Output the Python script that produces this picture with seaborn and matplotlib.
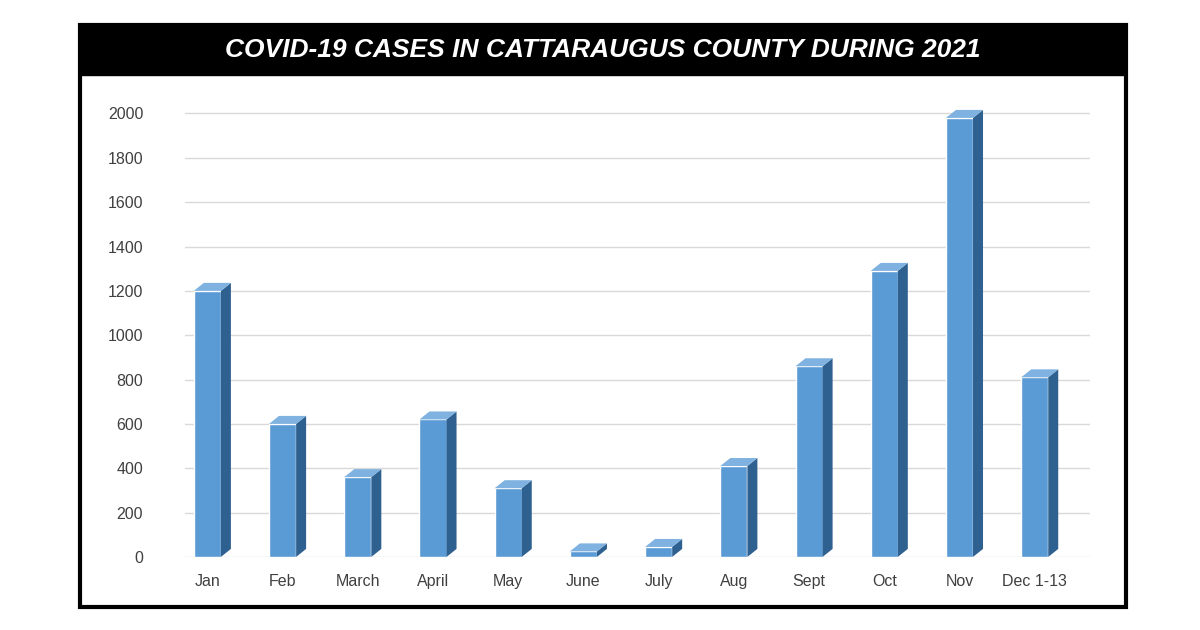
import matplotlib
matplotlib.use("Agg")
import matplotlib.pyplot as plt
import seaborn as sns
import pandas as pd
from matplotlib.patches import Polygon, Rectangle

# ── data ──────────────────────────────────────────────────────────────────────
months = ["Jan", "Feb", "March", "April", "May", "June", "July", "Aug",
          "Sept", "Oct", "Nov", "Dec 1-13"]
cases = [1200, 600, 360, 620, 310, 25, 45, 410, 860, 1290, 1980, 810]
yticks = list(range(0, 2001, 200))

df = pd.DataFrame({"month": months, "cases": cases})

FRONT = "#5b9bd5"
SIDE = "#2f6190"
TOP = "#7fb2e0"

sns.set_style("white")
plt.rcParams["font.family"] = ["Liberation Sans", "DejaVu Sans"]

fig = plt.figure(figsize=(12, 6.3), dpi=100)
ax = fig.add_axes([0.154, 0.116, 0.754, 0.725])

# grid lines (drawn first, behind bars)
for t in yticks:
    ax.axhline(t, color="#d9d9d9", lw=1, zorder=0)

sns.barplot(data=df, x="month", y="cases", color=FRONT, width=0.36,
            saturation=1, ax=ax, zorder=2)

# fake 3D depth: side and top faces based on each bar
dx, dy = 0.133, 36
for p in ax.patches:
    x0, w, h = p.get_x(), p.get_width(), p.get_height()
    x1 = x0 + w
    ax.add_patch(Polygon([(x1, 0), (x1 + dx, dy), (x1 + dx, h + dy), (x1, h)],
                         closed=True, fc=SIDE, ec="none", zorder=3))
    ax.add_patch(Polygon([(x0, h), (x0 + dx, h + dy), (x1 + dx, h + dy), (x1, h)],
                         closed=True, fc=TOP, ec="none", zorder=3))

ax.set_xlim(-0.3, 11.73)
ax.set_ylim(0, 2060)
ax.set_yticks(yticks)
ax.set_xlabel("")
ax.set_ylabel("")
ax.tick_params(axis="both", length=0, labelsize=11.5, colors="#404040")
ax.tick_params(axis="y", pad=30)
ax.tick_params(axis="x", pad=12)
for s in ax.spines.values():
    s.set_visible(False)

# frame and title band
fig.patches.append(Rectangle((0.067, 0.037), 0.871, 0.923, transform=fig.transFigure,
                             fill=False, ec="black", lw=3))
fig.patches.append(Rectangle((0.067, 0.881), 0.871, 0.079, transform=fig.transFigure,
                             fc="black", ec="black"))
fig.text(0.502, 0.921, "COVID-19 CASES IN CATTARAUGUS COUNTY DURING 2021",
         color="white", fontsize=19, fontweight="bold", fontstyle="italic",
         ha="center", va="center")

fig.savefig("out.png", dpi=100)
